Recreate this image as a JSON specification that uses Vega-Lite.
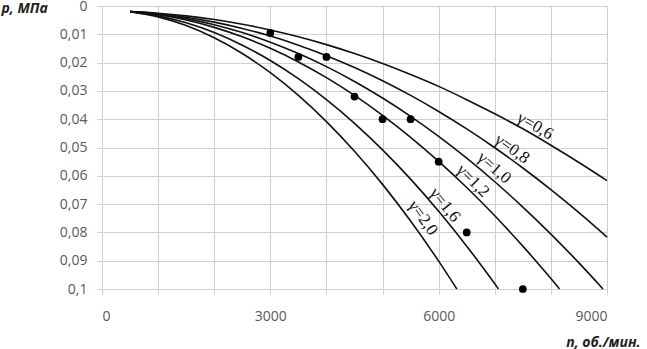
{
  "$schema": "https://vega.github.io/schema/vega-lite/v6.json",
  "autosize": {"type": "none"},
  "padding": {"left": 102, "top": 6, "right": 40, "bottom": 60},
  "width": 505,
  "height": 283,
  "background": "white",
  "config": {
    "view": {"stroke": null},
    "axis": {
      "domain": false,
      "gridColor": "#cfcfcf",
      "gridWidth": 1,
      "tickColor": "#cfcfcf",
      "tickSize": 5,
      "labelFont": "Open Sans",
      "labelFontSize": 14,
      "labelColor": "#595959",
      "titleFont": "Open Sans",
      "titleFontSize": 14,
      "titleFontWeight": "bold",
      "titleFontStyle": "italic",
      "titleColor": "#222222"
    }
  },
  "datasets": {
    "curves": [
      {"g": "0,6", "n": 500, "p": 0.002}, {"g": "0,6", "n": 1000, "p": 0.00255}, {"g": "0,6", "n": 1500, "p": 0.00348}, {"g": "0,6", "n": 2000, "p": 0.00477}, {"g": "0,6", "n": 2500, "p": 0.00644}, {"g": "0,6", "n": 3000, "p": 0.00847}, {"g": "0,6", "n": 3500, "p": 0.01088}, {"g": "0,6", "n": 4000, "p": 0.01365}, {"g": "0,6", "n": 4500, "p": 0.0168}, {"g": "0,6", "n": 5000, "p": 0.0203}, {"g": "0,6", "n": 5500, "p": 0.0242}, {"g": "0,6", "n": 6000, "p": 0.0284}, {"g": "0,6", "n": 6500, "p": 0.0331}, {"g": "0,6", "n": 7000, "p": 0.0381}, {"g": "0,6", "n": 7500, "p": 0.0434}, {"g": "0,6", "n": 8000, "p": 0.0492}, {"g": "0,6", "n": 8500, "p": 0.0553}, {"g": "0,6", "n": 9000, "p": 0.0617},
      {"g": "0,8", "n": 500, "p": 0.002}, {"g": "0,8", "n": 1000, "p": 0.00274}, {"g": "0,8", "n": 1500, "p": 0.00397}, {"g": "0,8", "n": 2000, "p": 0.0057}, {"g": "0,8", "n": 2500, "p": 0.00792}, {"g": "0,8", "n": 3000, "p": 0.01063}, {"g": "0,8", "n": 3500, "p": 0.01384}, {"g": "0,8", "n": 4000, "p": 0.01754}, {"g": "0,8", "n": 4500, "p": 0.02173}, {"g": "0,8", "n": 5000, "p": 0.02641}, {"g": "0,8", "n": 5500, "p": 0.03159}, {"g": "0,8", "n": 6000, "p": 0.03726}, {"g": "0,8", "n": 6500, "p": 0.04343}, {"g": "0,8", "n": 7000, "p": 0.05009}, {"g": "0,8", "n": 7500, "p": 0.05724}, {"g": "0,8", "n": 8000, "p": 0.06488}, {"g": "0,8", "n": 8500, "p": 0.07302}, {"g": "0,8", "n": 9000, "p": 0.08165},
      {"g": "1,0", "n": 500, "p": 0.002}, {"g": "1,0", "n": 1000, "p": 0.00292}, {"g": "1,0", "n": 1500, "p": 0.00447}, {"g": "1,0", "n": 2000, "p": 0.00662}, {"g": "1,0", "n": 2500, "p": 0.0094}, {"g": "1,0", "n": 3000, "p": 0.01279}, {"g": "1,0", "n": 3500, "p": 0.0168}, {"g": "1,0", "n": 4000, "p": 0.02142}, {"g": "1,0", "n": 4500, "p": 0.02666}, {"g": "1,0", "n": 5000, "p": 0.03252}, {"g": "1,0", "n": 5500, "p": 0.03899}, {"g": "1,0", "n": 6000, "p": 0.04608}, {"g": "1,0", "n": 6500, "p": 0.05379}, {"g": "1,0", "n": 7000, "p": 0.06211}, {"g": "1,0", "n": 7500, "p": 0.07105}, {"g": "1,0", "n": 8000, "p": 0.0806}, {"g": "1,0", "n": 8500, "p": 0.09078}, {"g": "1,0", "n": 8929, "p": 0.1},
      {"g": "1,2", "n": 500, "p": 0.002}, {"g": "1,2", "n": 1000, "p": 0.00311}, {"g": "1,2", "n": 1500, "p": 0.00496}, {"g": "1,2", "n": 2000, "p": 0.00755}, {"g": "1,2", "n": 2500, "p": 0.01088}, {"g": "1,2", "n": 3000, "p": 0.01495}, {"g": "1,2", "n": 3500, "p": 0.01976}, {"g": "1,2", "n": 4000, "p": 0.0253}, {"g": "1,2", "n": 4500, "p": 0.03159}, {"g": "1,2", "n": 5000, "p": 0.03862}, {"g": "1,2", "n": 5500, "p": 0.04639}, {"g": "1,2", "n": 6000, "p": 0.0549}, {"g": "1,2", "n": 6500, "p": 0.06414}, {"g": "1,2", "n": 7000, "p": 0.07413}, {"g": "1,2", "n": 7500, "p": 0.08486}, {"g": "1,2", "n": 8000, "p": 0.09632}, {"g": "1,2", "n": 8154, "p": 0.1},
      {"g": "1,6", "n": 500, "p": 0.002}, {"g": "1,6", "n": 1000, "p": 0.00348}, {"g": "1,6", "n": 1500, "p": 0.00595}, {"g": "1,6", "n": 2000, "p": 0.0094}, {"g": "1,6", "n": 2500, "p": 0.01384}, {"g": "1,6", "n": 3000, "p": 0.01926}, {"g": "1,6", "n": 3500, "p": 0.02567}, {"g": "1,6", "n": 4000, "p": 0.03307}, {"g": "1,6", "n": 4500, "p": 0.04146}, {"g": "1,6", "n": 5000, "p": 0.05083}, {"g": "1,6", "n": 5500, "p": 0.06118}, {"g": "1,6", "n": 6000, "p": 0.07253}, {"g": "1,6", "n": 6500, "p": 0.08486}, {"g": "1,6", "n": 7000, "p": 0.09817}, {"g": "1,6", "n": 7066, "p": 0.1},
      {"g": "2,0", "n": 500, "p": 0.002}, {"g": "2,0", "n": 1000, "p": 0.00385}, {"g": "2,0", "n": 1500, "p": 0.00693}, {"g": "2,0", "n": 2000, "p": 0.01125}, {"g": "2,0", "n": 2500, "p": 0.0168}, {"g": "2,0", "n": 3000, "p": 0.02358}, {"g": "2,0", "n": 3500, "p": 0.03159}, {"g": "2,0", "n": 4000, "p": 0.04084}, {"g": "2,0", "n": 4500, "p": 0.05132}, {"g": "2,0", "n": 5000, "p": 0.06303}, {"g": "2,0", "n": 5500, "p": 0.07598}, {"g": "2,0", "n": 6000, "p": 0.09016}, {"g": "2,0", "n": 6324, "p": 0.1}
    ],
    "points": [
      {"n": 3000, "p": 0.0095}, {"n": 3500, "p": 0.018}, {"n": 4000, "p": 0.018}, {"n": 4500, "p": 0.032}, {"n": 5000, "p": 0.04}, {"n": 5500, "p": 0.04}, {"n": 6000, "p": 0.055}, {"n": 6500, "p": 0.08}, {"n": 7500, "p": 0.1}
    ],
    "labels": [
      {"g": "0,6", "n": 7720, "p": 0.0424, "label": "γ=0,6"},
      {"g": "0,8", "n": 7310, "p": 0.0505, "label": "γ=0,8"},
      {"g": "1,0", "n": 6990, "p": 0.0572, "label": "γ=1,0"},
      {"g": "1,2", "n": 6610, "p": 0.0618, "label": "γ=1,2"},
      {"g": "1,6", "n": 6110, "p": 0.0703, "label": "γ=1,6"},
      {"g": "2,0", "n": 5720, "p": 0.0749, "label": "γ=2,0"}
    ]
  },
  "encoding": {
    "x": {
      "field": "n", "type": "quantitative",
      "scale": {"domain": [0, 9000], "nice": false},
      "axis": {
        "values": [0, 1000, 2000, 3000, 4000, 5000, 6000, 7000, 8000, 9000],
        "format": "d",
        "labelExpr": "datum.value % 3000 === 0 ? datum.label : ''",
        "labelPadding": 15,
        "title": "n, об./мин.",
        "titleAngle": 0,
        "titleAlign": "right",
        "titleBaseline": "middle",
        "titleX": 538,
        "titleY": 53
      }
    },
    "y": {
      "field": "p", "type": "quantitative",
      "scale": {"domain": [0, 0.1], "reverse": true, "nice": false},
      "axis": {
        "values": [0, 0.01, 0.02, 0.03, 0.04, 0.05, 0.06, 0.07, 0.08, 0.09, 0.1],
        "format": ".2~f",
        "labelExpr": "replace(datum.label, '.', ',')",
        "labelPadding": 10,
        "title": "p, МПа",
        "titleAngle": 0,
        "titleAlign": "left",
        "titleBaseline": "middle",
        "titleX": -101,
        "titleY": 2
      }
    }
  },
  "layer": [
    {
      "data": {"name": "curves"},
      "mark": {"type": "line", "color": "#111111", "strokeWidth": 1.6, "interpolate": "monotone"},
      "encoding": {"detail": {"field": "g", "type": "nominal"}}
    },
    {
      "data": {"name": "points"},
      "mark": {"type": "circle", "color": "#000000", "size": 60, "opacity": 1}
    },
    {
      "data": {"name": "labels"},
      "transform": [{"filter": "datum.g === '0,6'"}],
      "mark": {"type": "text", "font": "Liberation Serif", "fontSize": 17, "color": "#111111", "angle": 30, "baseline": "middle", "align": "center"},
      "encoding": {"text": {"field": "label"}}
    },
    {
      "data": {"name": "labels"},
      "transform": [{"filter": "datum.g === '0,8'"}],
      "mark": {"type": "text", "font": "Liberation Serif", "fontSize": 17, "color": "#111111", "angle": 36, "baseline": "middle", "align": "center"},
      "encoding": {"text": {"field": "label"}}
    },
    {
      "data": {"name": "labels"},
      "transform": [{"filter": "datum.g === '1,0'"}],
      "mark": {"type": "text", "font": "Liberation Serif", "fontSize": 17, "color": "#111111", "angle": 41, "baseline": "middle", "align": "center"},
      "encoding": {"text": {"field": "label"}}
    },
    {
      "data": {"name": "labels"},
      "transform": [{"filter": "datum.g === '1,2'"}],
      "mark": {"type": "text", "font": "Liberation Serif", "fontSize": 17, "color": "#111111", "angle": 45, "baseline": "middle", "align": "center"},
      "encoding": {"text": {"field": "label"}}
    },
    {
      "data": {"name": "labels"},
      "transform": [{"filter": "datum.g === '1,6'"}],
      "mark": {"type": "text", "font": "Liberation Serif", "fontSize": 17, "color": "#111111", "angle": 51, "baseline": "middle", "align": "center"},
      "encoding": {"text": {"field": "label"}}
    },
    {
      "data": {"name": "labels"},
      "transform": [{"filter": "datum.g === '2,0'"}],
      "mark": {"type": "text", "font": "Liberation Serif", "fontSize": 17, "color": "#111111", "angle": 55, "baseline": "middle", "align": "center"},
      "encoding": {"text": {"field": "label"}}
    }
  ]
}
